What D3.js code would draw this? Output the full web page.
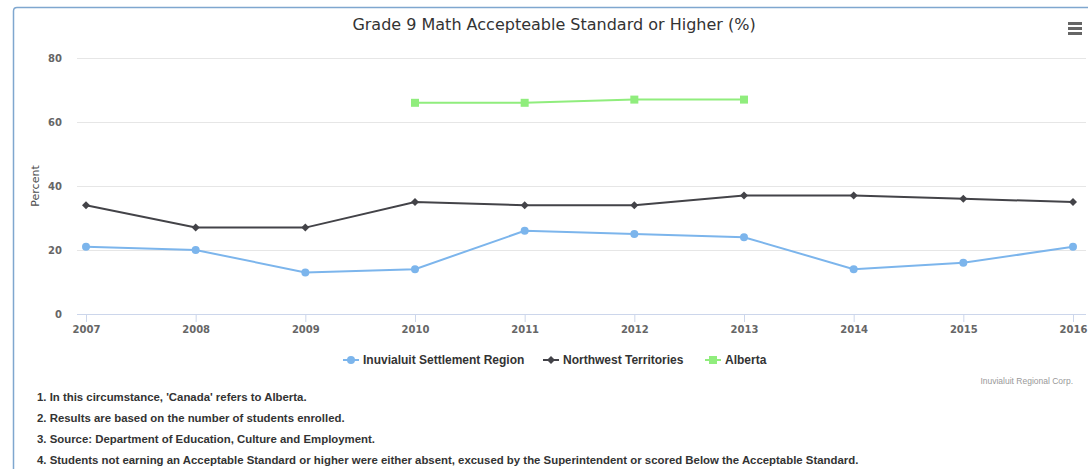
<!DOCTYPE html>
<html>
<head>
<meta charset="utf-8">
<script src="https://cdn.jsdelivr.net/npm/d3@7"></script>
<style>
  body { margin: 0; background: #fff; }
  svg { display: block; font-family: "Lucida Grande", "DejaVu Sans", "Open Sans", Arial, sans-serif; }
</style>
</head>
<body>
<svg width="1088" height="469"></svg>
<script>
var years = [2007, 2008, 2009, 2010, 2011, 2012, 2013, 2014, 2015, 2016];
var inuvialuit = [21, 20, 13, 14, 26, 25, 24, 14, 16, 21];
var nwt = [34, 27, 27, 35, 34, 34, 37, 37, 36, 35];
var alberta = [null, null, null, 66, 66, 67, 67, null, null, null];
var yTicks = [0, 20, 40, 60, 80];
var notes = [
  "1. In this circumstance, 'Canada' refers to Alberta.",
  "2. Results are based on the number of students enrolled.",
  "3. Source: Department of Education, Culture and Employment.",
  "4. Students not earning an Acceptable Standard or higher were either absent, excused by the Superintendent or scored Below the Acceptable Standard."
];

var series = [
  {name: 'Inuvialuit Settlement Region', values: inuvialuit, color: '#7cb5ec', symbol: 'circle'},
  {name: 'Northwest Territories', values: nwt, color: '#434348', symbol: 'diamond'},
  {name: 'Alberta', values: alberta, color: '#90ed7d', symbol: 'square'}
];

var svg = d3.select('svg');

// frame
svg.append('path')
  .attr('d', 'M13.5,469 L13.5,11 Q13.5,7.5 17,7.5 L1088,7.5')
  .attr('fill', 'none')
  .attr('stroke', '#7fa7cf')
  .attr('stroke-width', 1.5);

var x = d3.scalePoint().domain(years).range([86, 1073]);
var y = d3.scaleLinear().domain([0, 80]).range([314, 58]);

// gridlines
svg.append('g').selectAll('line')
  .data(yTicks.slice(1))
  .enter().append('line')
  .attr('x1', 77).attr('x2', 1086)
  .attr('y1', function(d) { return y(d) + 0.5; })
  .attr('y2', function(d) { return y(d) + 0.5; })
  .attr('stroke', '#e6e6e6');

// y axis labels
svg.append('g').selectAll('text')
  .data(yTicks)
  .enter().append('text')
  .attr('x', 62)
  .attr('y', function(d) { return y(d) + 4; })
  .attr('text-anchor', 'end')
  .attr('fill', '#666')
  .style('font-size', '10px')
  .style('font-weight', 'bold')
  .style('font-family', '"DejaVu Sans", sans-serif')
  .text(function(d) { return d; });

svg.append('text')
  .attr('transform', 'translate(39,186) rotate(-90)')
  .attr('text-anchor', 'middle')
  .attr('fill', '#4d4d4d')
  .style('font-size', '11px')
  .text('Percent');

// x axis
var xAxis = d3.axisBottom(x).tickSize(8).tickPadding(4);
var xg = svg.append('g')
  .attr('transform', 'translate(0,314)')
  .call(xAxis);
xg.select('.domain').attr('d', 'M77,0.5H1086').attr('stroke', '#ccd6eb');
xg.selectAll('.tick line').attr('stroke', '#ccd6eb');
xg.selectAll('.tick text')
  .attr('fill', '#666')
  .style('font-size', '10px')
  .style('font-weight', 'bold')
  .style('font-family', '"DejaVu Sans", sans-serif');

// title
svg.append('text')
  .attr('x', 554).attr('y', 30)
  .attr('text-anchor', 'middle')
  .attr('fill', '#333')
  .style('font-size', '16px')
  .text('Grade 9 Math Accepteable Standard or Higher (%)');

// menu icon
svg.append('g').selectAll('line')
  .data([0, 5, 10])
  .enter().append('line')
  .attr('x1', 1068).attr('x2', 1082)
  .attr('y1', function(d) { return 23.5 + d; })
  .attr('y2', function(d) { return 23.5 + d; })
  .attr('stroke', '#666')
  .attr('stroke-width', 3);

function drawSymbol(g, type, cx, cy, color) {
  if (type === 'circle') {
    g.append('circle').attr('cx', cx).attr('cy', cy).attr('r', 4).attr('fill', color);
  } else if (type === 'diamond') {
    g.append('path')
      .attr('d', 'M' + cx + ',' + (cy - 4) + 'L' + (cx + 4) + ',' + cy + 'L' + cx + ',' + (cy + 4) + 'L' + (cx - 4) + ',' + cy + 'Z')
      .attr('fill', color);
  } else {
    g.append('rect').attr('x', cx - 4).attr('y', cy - 4).attr('width', 8).attr('height', 8).attr('fill', color);
  }
}

var line = d3.line()
  .defined(function(d) { return d.v != null; })
  .x(function(d) { return x(d.year); })
  .y(function(d) { return y(d.v); });

series.forEach(function(s) {
  var pts = years.map(function(yr, i) { return {year: yr, v: s.values[i]}; });
  var g = svg.append('g');
  g.append('path')
    .datum(pts)
    .attr('d', line)
    .attr('fill', 'none')
    .attr('stroke', s.color)
    .attr('stroke-width', 2);
  pts.filter(function(d) { return d.v != null; }).forEach(function(d) {
    drawSymbol(g, s.symbol, x(d.year), y(d.v), s.color);
  });
});

// legend
var legendX = [343, 543, 705];
series.forEach(function(s, i) {
  var g = svg.append('g').attr('transform', 'translate(' + legendX[i] + ',360)');
  g.append('line').attr('x1', 0).attr('x2', 16).attr('y1', 0).attr('y2', 0)
    .attr('stroke', s.color).attr('stroke-width', 2);
  drawSymbol(g, s.symbol, 8, 0, s.color);
  g.append('text')
    .attr('x', 20).attr('y', 4)
    .attr('fill', '#333')
    .style('font-size', '12px')
    .style('font-weight', 'bold')
    .style('font-family', '"Liberation Sans", Arial, sans-serif')
    .text(s.name);
});

// credits
svg.append('text')
  .attr('x', 1073).attr('y', 384)
  .attr('text-anchor', 'end')
  .attr('fill', '#999')
  .style('font-size', '8.5px')
  .style('font-family', '"Liberation Sans", Arial, sans-serif')
  .text('Inuvialuit Regional Corp.');

// footnotes
svg.append('g').selectAll('text')
  .data(notes)
  .enter().append('text')
  .attr('x', 37)
  .attr('y', function(d, i) { return 401 + i * 21; })
  .attr('fill', '#333')
  .style('font-family', '"Liberation Sans", Arial, sans-serif')
  .style('font-size', '11.4px')
  .style('font-weight', 'bold')
  .text(function(d) { return d; });
</script>
</body>
</html>
